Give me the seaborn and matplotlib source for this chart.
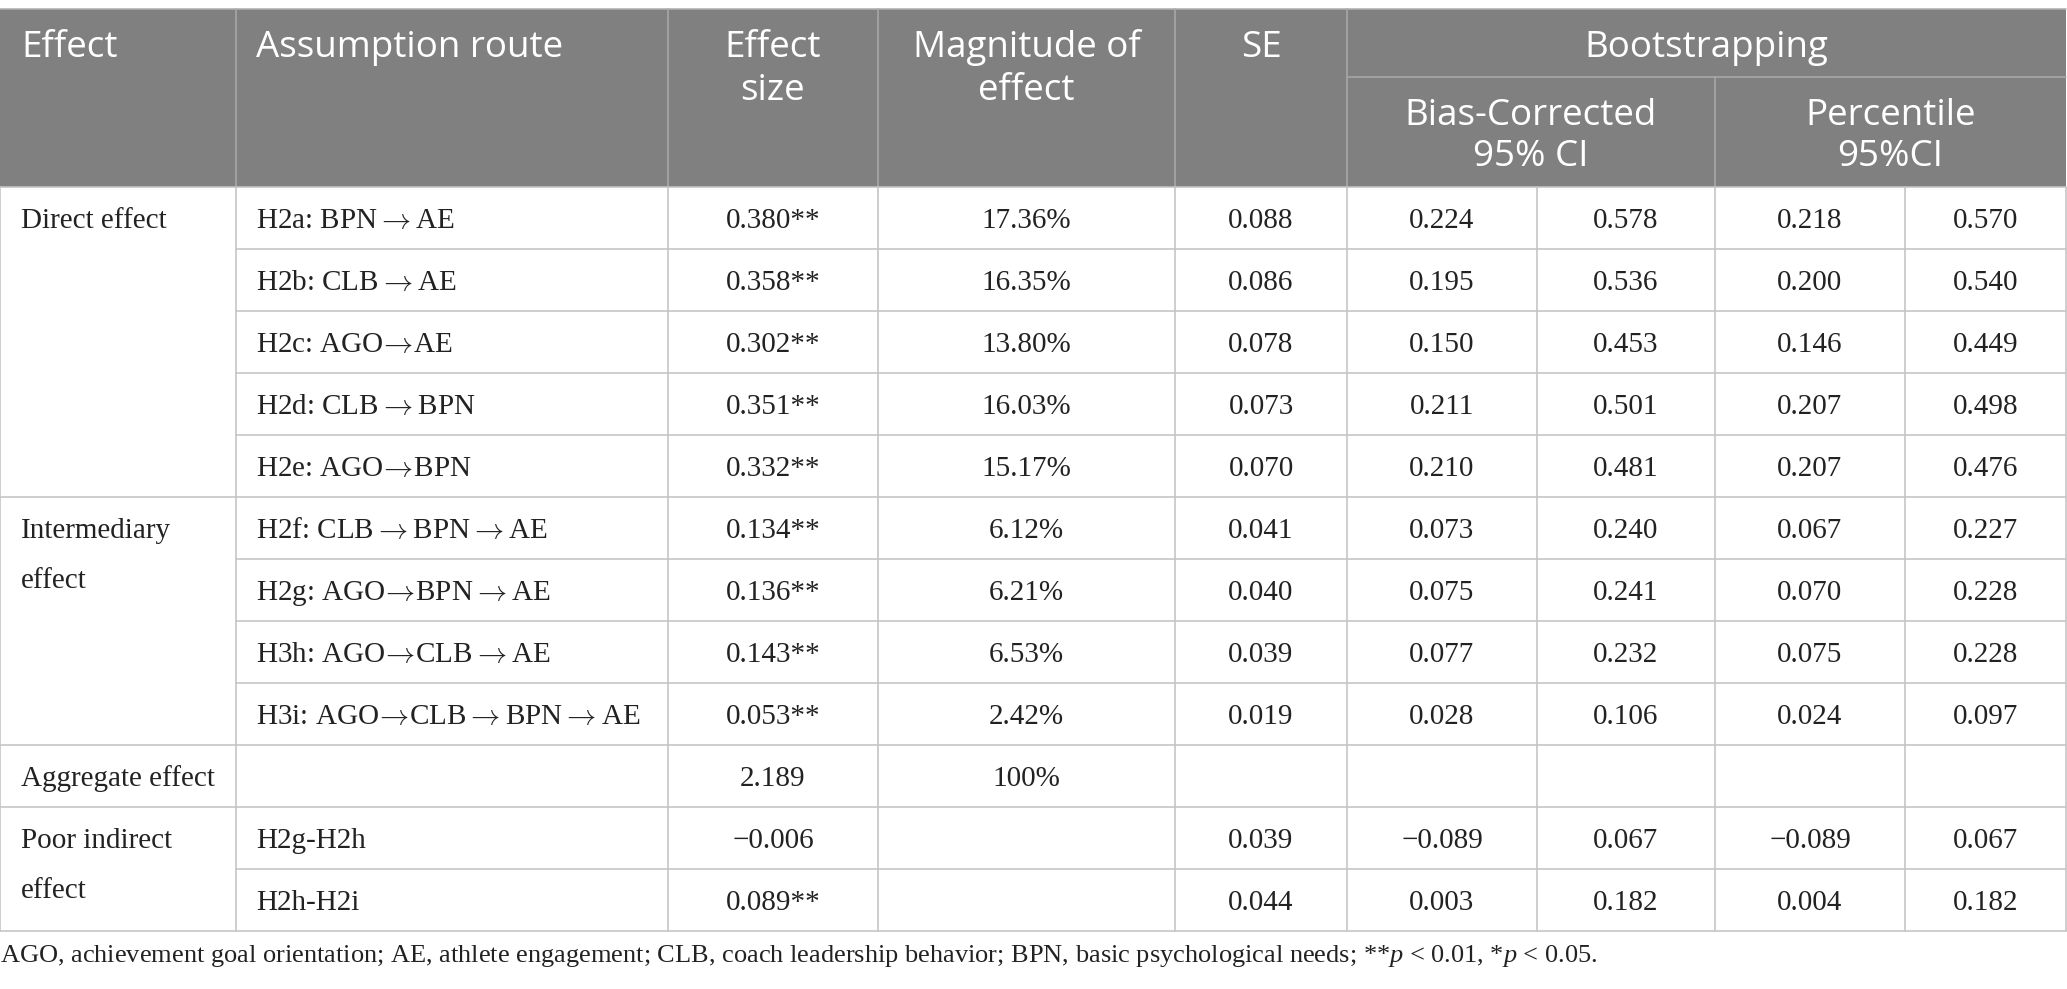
import numpy as np
import pandas as pd
import matplotlib.pyplot as plt
import seaborn as sns

# Table content
A = "$\\rightarrow$"        # spaced arrow
a = "$\\!\\rightarrow\\!$"  # tight arrow
groups = ["Direct effect", "Intermediary\neffect", "Aggregate effect", "Poor indirect\neffect"]
group_sizes = [5, 4, 1, 2]
routes = ["H2a: BPN" + A + "AE", "H2b: CLB" + A + "AE", "H2c: AGO" + a + "AE",
          "H2d: CLB" + A + "BPN", "H2e: AGO" + a + "BPN", "H2f: CLB" + A + "BPN" + A + "AE",
          "H2g: AGO" + a + "BPN" + A + "AE", "H3h: AGO" + a + "CLB" + A + "AE",
          "H3i: AGO" + a + "CLB" + A + "BPN" + A + "AE", "",
          "H2g-H2h", "H2h-H2i"]
effect_size = ["0.380**", "0.358**", "0.302**", "0.351**", "0.332**", "0.134**", "0.136**",
               "0.143**", "0.053**", "2.189", "\u22120.006", "0.089**"]
magnitude = ["17.36%", "16.35%", "13.80%", "16.03%", "15.17%", "6.12%", "6.21%", "6.53%",
             "2.42%", "100%", "", ""]
se = ["0.088", "0.086", "0.078", "0.073", "0.070", "0.041", "0.040", "0.039", "0.019", "",
      "0.039", "0.044"]
bc_low = ["0.224", "0.195", "0.150", "0.211", "0.210", "0.073", "0.075", "0.077", "0.028", "",
          "\u22120.089", "0.003"]
bc_high = ["0.578", "0.536", "0.453", "0.501", "0.481", "0.240", "0.241", "0.232", "0.106", "",
           "0.067", "0.182"]
pct_low = ["0.218", "0.200", "0.146", "0.207", "0.207", "0.067", "0.070", "0.075", "0.024", "",
           "\u22120.089", "0.004"]
pct_high = ["0.570", "0.540", "0.449", "0.498", "0.476", "0.227", "0.228", "0.228", "0.097", "",
            "0.067", "0.182"]

df = pd.DataFrame({"route": routes, "effect_size": effect_size, "magnitude": magnitude,
                   "se": se, "bc_low": bc_low, "bc_high": bc_high,
                   "pct_low": pct_low, "pct_high": pct_high})

footnote = ("AGO, achievement goal orientation; AE, athlete engagement; CLB, coach leadership "
            "behavior; BPN, basic psychological needs; **$\\mathit{p}$ < 0.01, *$\\mathit{p}$ < 0.05.")

sns.set_theme(style="white")
plt.rcParams["mathtext.fontset"] = "custom"
plt.rcParams["mathtext.rm"] = "Liberation Serif"
plt.rcParams["mathtext.it"] = "Liberation Serif:italic"

W, H = 2067, 989
fig = plt.figure(figsize=(W / 100, H / 100), dpi=100)
ax = fig.add_axes([0, 0, 1, 1])
ax.set_xlim(0, W)
ax.set_ylim(H, 0)
ax.axis("off")

# layout (pixels)
cols = [0, 236, 668, 878, 1175, 1347, 1537, 1715, 1905, 2066]
top, sub, head_bot, row_h = 9, 77, 187, 62
n_rows = len(routes)
bottom = head_bot + row_h * n_rows
line_c = "#c4c4c4"
head_bg = "#808080"
lw = 1.6 * 0.72
serif = "Liberation Serif"
sans = "Open Sans"
body_fs = 21
head_fs = 26.5
txt_c = "#222222"

# header background
ax.axhspan(top, head_bot, xmin=0, xmax=cols[-1] / W, color=head_bg, lw=0, zorder=0)
ax.plot([0, cols[-1]], [top, top], color="#b0b0b0", lw=lw)

# header separators
hl = "#a8a8a8"
for x in cols[1:6]:
    ax.plot([x, x], [top, head_bot], color=hl, lw=lw)
ax.plot([cols[5], cols[-1]], [sub, sub], color=hl, lw=lw)
ax.plot([cols[7], cols[7]], [sub, head_bot], color=hl, lw=lw)

# header text
hkw = dict(color="white", fontsize=head_fs, family=sans, va="baseline")
b1, b2 = 57, 100
ax.text(21, b1, "Effect", ha="left", **hkw)
ax.text(cols[1] + 20, b1, "Assumption route", ha="left", **hkw)
ax.text((cols[2] + cols[3]) / 2, b1, "Effect", ha="center", **hkw)
ax.text((cols[2] + cols[3]) / 2, b2, "size", ha="center", **hkw)
ax.text((cols[3] + cols[4]) / 2, b1, "Magnitude of", ha="center", **hkw)
ax.text((cols[3] + cols[4]) / 2, b2, "effect", ha="center", **hkw)
ax.text((cols[4] + cols[5]) / 2, b1, "SE", ha="center", **hkw)
ax.text((cols[5] + cols[-1]) / 2, b1, "Bootstrapping", ha="center", **hkw)
ax.text((cols[5] + cols[7]) / 2, 125, "Bias-Corrected", ha="center", **hkw)
ax.text((cols[5] + cols[7]) / 2, 166, "95% CI", ha="center", **hkw)
ax.text((cols[7] + cols[-1]) / 2, 125, "Percentile", ha="center", **hkw)
ax.text((cols[7] + cols[-1]) / 2, 166, "95%CI", ha="center", **hkw)

# body grid
for x in cols:
    ax.plot([x, x], [head_bot, bottom], color=line_c, lw=lw)
group_starts = np.cumsum([0] + group_sizes)
for i in range(n_rows + 1):
    y = head_bot + row_h * i
    x0 = 0 if i in group_starts else cols[1]
    ax.plot([x0, cols[-1]], [y, y], color=line_c, lw=lw)

# body text
bkw = dict(color=txt_c, fontsize=body_fs, family=serif, va="baseline")
for g, start in zip(groups, group_starts[:-1]):
    for k, part in enumerate(g.split("\n")):
        ax.text(21, head_bot + row_h * start + 41 + 50 * k, part, ha="left", **bkw)

value_cols = ["effect_size", "magnitude", "se", "bc_low", "bc_high", "pct_low", "pct_high"]
for i, row in df.iterrows():
    yb = head_bot + row_h * i + 41
    ax.text(cols[1] + 20, yb, row["route"], ha="left", math_fontfamily="cm", **bkw)
    for j, c in enumerate(value_cols):
        xc = (cols[j + 2] + cols[j + 3]) / 2
        ax.text(xc, yb, row[c], ha="center", **bkw)

ax.text(0, 962, footnote, ha="left", va="baseline", color=txt_c, fontsize=19, family=serif)

fig.savefig("out.png", dpi=100)
